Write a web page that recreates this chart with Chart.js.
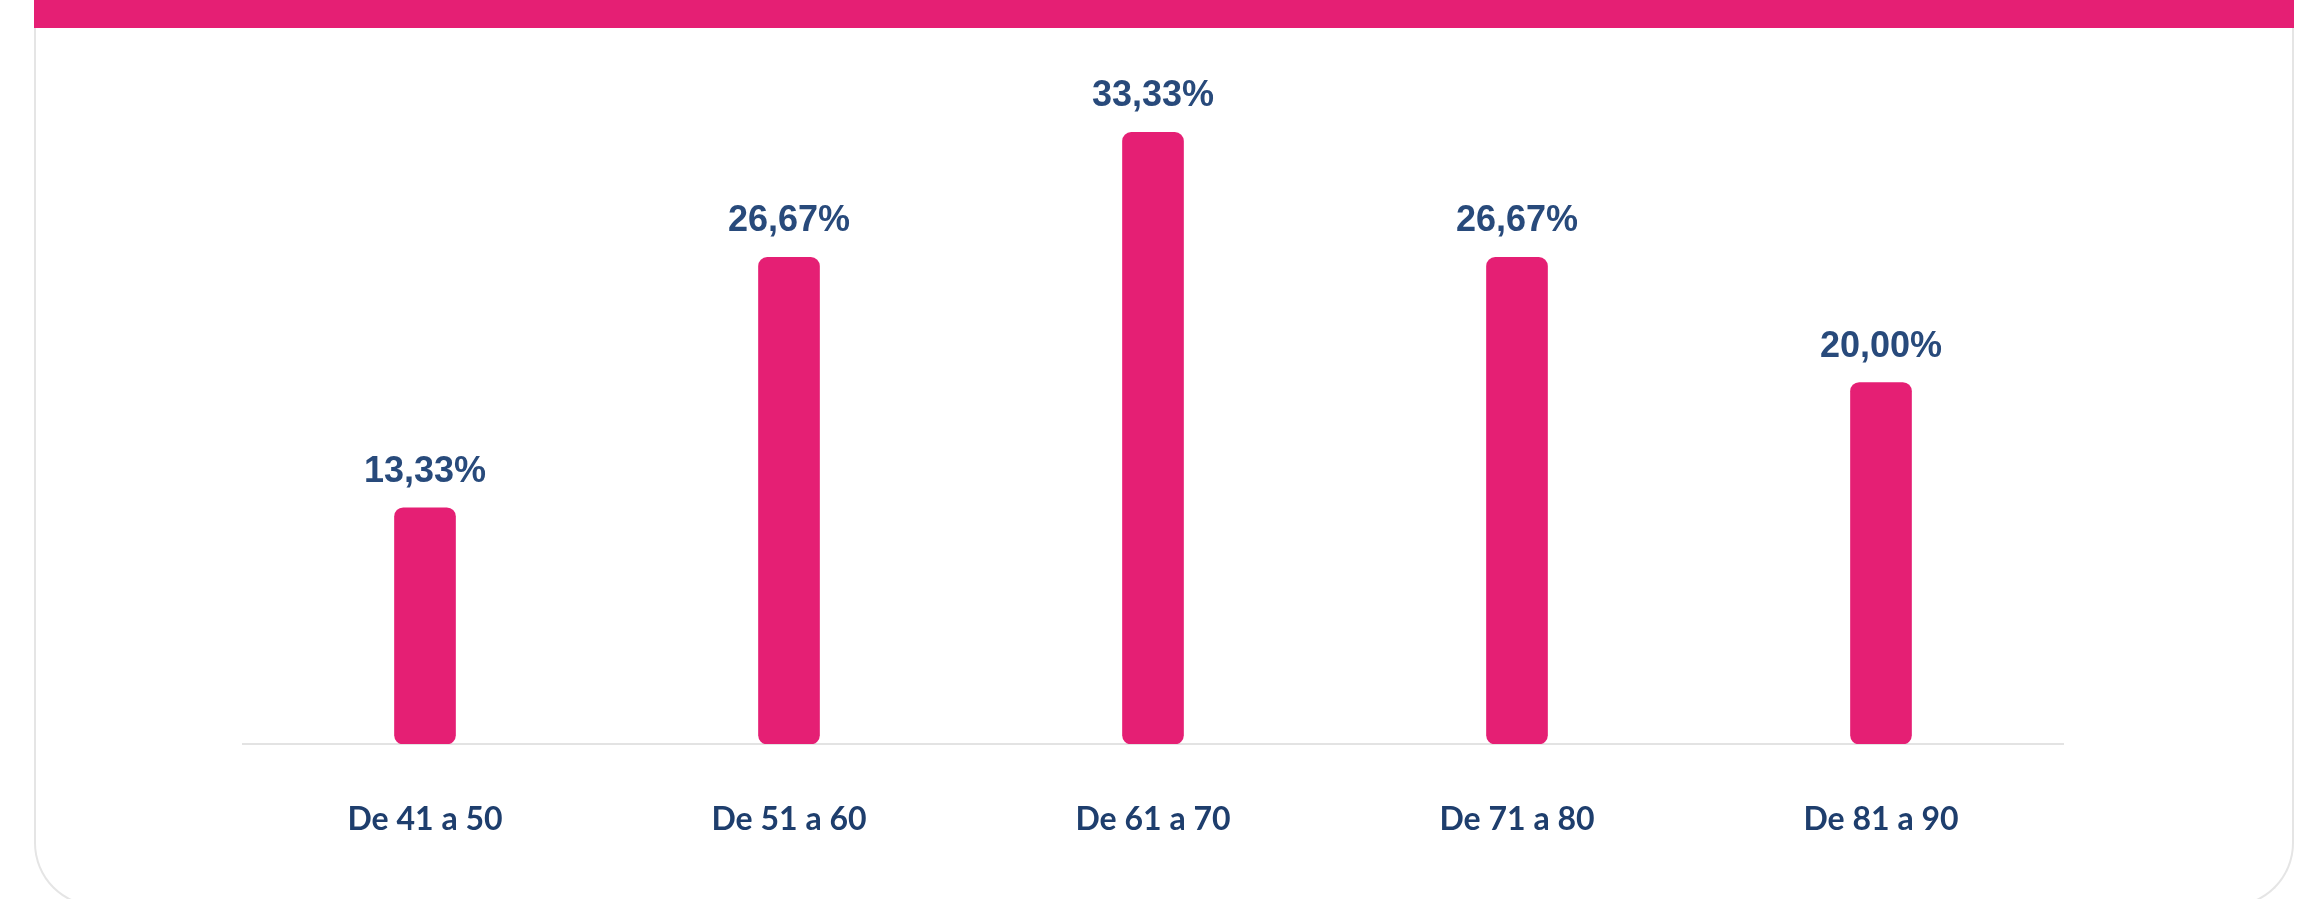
<!DOCTYPE html>
<html>
<head>
<meta charset="utf-8">
<script src="https://cdn.jsdelivr.net/npm/chart.js@4/dist/chart.umd.min.js"></script>
<style>
  html, body { margin: 0; padding: 0; background: #ffffff; width: 2304px; height: 899px; overflow: hidden; }
  #card {
    position: absolute; left: 34px; top: 0; width: 2260px; height: 907px;
    box-sizing: border-box; border: 2px solid #e5e5e5; border-top: none;
    border-radius: 0 0 64px 64px; background: #ffffff;
  }
  #band { position: absolute; left: 34px; top: 0; width: 2260px; height: 28px; background: #e51f74; }
  #c { position: absolute; left: 0; top: 0; }
</style>
</head>
<body>
<div id="card"></div>
<div id="band"></div>
<canvas id="c" width="2304" height="899"></canvas>
<script>
const categories = ["De 41 a 50", "De 51 a 60", "De 61 a 70", "De 71 a 80", "De 81 a 90"];
const percentages = [13.33, 26.67, 33.33, 26.67, 20.00];
const axisMin = 0.74;
const axisMax = 35;

const valueLabels = {
  id: 'valueLabels',
  afterDatasetsDraw(chart) {
    const ctx = chart.ctx;
    const meta = chart.getDatasetMeta(0);
    ctx.save();
    ctx.font = 'bold 36px "Liberation Sans", Arial, sans-serif';
    ctx.fillStyle = '#284a7b';
    ctx.textAlign = 'center';
    ctx.textBaseline = 'alphabetic';
    meta.data.forEach((bar, i) => {
      const txt = percentages[i].toFixed(2).replace('.', ',') + '%';
      ctx.fillText(txt, bar.x, bar.y - 26);
    });
    ctx.restore();
  }
};

new Chart(document.getElementById('c'), {
  type: 'bar',
  data: {
    labels: categories,
    datasets: [{
      data: percentages,
      base: axisMin,
      backgroundColor: '#e51f74',
      borderRadius: 9,
      borderSkipped: false,
      barThickness: 61
    }]
  },
  options: {
    responsive: false,
    devicePixelRatio: 1,
    animation: false,
    layout: { padding: { left: 243, right: 241, top: 101, bottom: 0 } },
    plugins: { legend: { display: false }, tooltip: { enabled: false } },
    scales: {
      y: { display: false, min: axisMin, max: axisMax },
      x: {
        grid: { display: false, drawTicks: false },
        border: { display: true, color: '#e3e3e3', width: 2 },
        ticks: {
          color: '#1e3e6d',
          font: { family: 'Lato, "Open Sans", sans-serif', weight: 'bold', size: 32 },
          padding: 56
        },
        afterFit(scale) { scale.height = 155; }
      }
    }
  },
  plugins: [valueLabels]
});
</script>
</body>
</html>
